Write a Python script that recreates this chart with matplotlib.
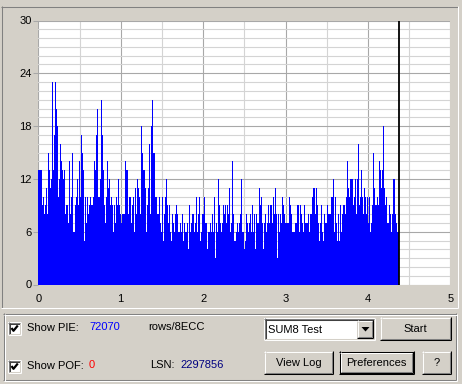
"""PIE scan screen: per-column PIE histogram with the control strip underneath."""

import numpy as np
import matplotlib

matplotlib.use("Agg")  # headless rendering
import matplotlib.pyplot as plt
from matplotlib.patches import Rectangle, Polygon

# PIE (rows/8ECC), one value per screen column, read left to right
pie_seg1 = [13, 13, 13, 13, 9, 10, 8, 9, 11, 8, 15, 13, 11, 12, 23, 13, 17, 23, 20, 18,
            10, 12, 16, 14, 13, 12, 13, 8, 9, 9, 7, 14, 8, 10, 15, 6, 6, 9, 10, 12,
            9, 14, 10, 17, 15, 13, 5, 10, 7, 10, 8, 9, 10, 9, 9, 10, 14, 13, 17, 20,
            10, 10, 12, 21, 17, 13, 9, 7, 10, 14, 11, 12, 9, 10, 9]
pie_seg2 = [6, 9, 7, 10, 9, 12, 9, 8, 7, 8, 8, 8, 14, 13, 13, 8, 10, 10, 7, 9,
            10, 6, 11, 8, 12, 11, 10, 8, 18, 15, 13, 13, 11, 6, 9, 11, 16, 8, 18, 21,
            15, 15, 10, 10, 8, 8, 10, 7, 6, 10, 5, 8, 10, 12, 9, 7, 9, 6, 5, 8,
            7, 6, 8, 9, 8, 6, 6, 7, 6, 8, 5, 7, 6, 6]
pie_seg3 = [7, 4, 9, 6, 7, 8, 8, 6, 7, 10, 6, 8, 10, 5, 6, 8, 8, 10, 7, 7,
            4, 6, 6, 7, 6, 8, 6, 10, 3, 7, 6, 12, 9, 7, 6, 7, 9, 8, 9, 7,
            9, 8, 11, 6, 7, 14, 8, 5, 5, 6, 7, 6, 7, 8, 12, 6, 6, 4, 5, 8,
            7, 6, 7, 8, 6, 9, 6, 8, 4, 8, 7, 7, 11, 9]
pie_seg4 = [10, 7, 4, 7, 8, 6, 7, 9, 7, 9, 9, 7, 10, 8, 11, 8, 3, 8, 6, 8,
            7, 10, 9, 8, 7, 7, 7, 7, 10, 9, 8, 6, 6, 6, 7, 7, 9, 9, 6, 9,
            8, 7, 6, 9, 7, 7, 7, 8, 6, 8, 8, 10, 11, 11, 8, 11, 9, 7, 5, 7,
            9, 6, 5, 8, 7, 7, 9, 8, 8, 8, 10, 10, 12, 6]
pie_seg5 = [10, 7, 5, 8, 5, 9, 6, 8, 9, 9, 8, 10, 14, 11, 10, 12, 12, 12, 9, 10,
            12, 8, 12, 16, 9, 10, 13, 10, 8, 11, 10, 8, 10, 7, 10, 6, 7, 9, 15, 11,
            9, 9, 10, 9, 14, 13, 11, 11, 13, 18, 11, 9, 10, 7, 7, 9, 8, 6, 8, 12,
            12, 8, 7, 6, 6]
pie_values = pie_seg1 + pie_seg2 + pie_seg3 + pie_seg4 + pie_seg5

scan_end_gb = 4.383          # current position (LSN 2297856)
x_ticks = [0, 1, 2, 3, 4, 5]
y_ticks = [0, 6, 12, 18, 24, 30]

pie_total = "72070"
pof_total = "0"
lsn_text = "2297856"
test_name = "SUM8 Test"

FACE = "#d4d0c8"
DARK = "#808080"
BLACK = "#000000"
WHITE = "#ffffff"
FONT = "Liberation Sans"
FS = 8

W, H = 462, 384
fig = plt.figure(figsize=(W / 100, H / 100), dpi=100, facecolor=FACE)

# --- control strip / frames, drawn in pixel coordinates --------------------
ui = fig.add_axes([0, 0, 1, 1], zorder=0)
ui.set_xlim(0, W); ui.set_ylim(H, 0); ui.axis("off")
ui.patch.set_alpha(0)


def _line(x0, y0, x1, y1, c):
    ui.plot([x0, x1], [y0, y1], color=c, lw=0.75, solid_capstyle="butt")


def frame(x0, y0, x1, y1, tl, br):
    # 1-px frame around pixels x0..x1, y0..y1 (top-left colour, bottom-right colour)
    _line(x0, y0 + .5, x1 + 1, y0 + .5, tl)
    _line(x0 + .5, y0, x0 + .5, y1 + 1, tl)
    _line(x0, y1 + .5, x1 + 1, y1 + .5, br)
    _line(x1 + .5, y0, x1 + .5, y1 + 1, br)


def button(x0, y0, x1, y1, label, default=False):
    if default:
        frame(x0, y0, x1, y1, BLACK, BLACK)
        x0, y0, x1, y1 = x0 + 1, y0 + 1, x1 - 1, y1 - 1
    ui.add_patch(Rectangle((x0, y0), x1 - x0 + 1, y1 - y0 + 1, color=FACE, lw=0))
    frame(x0, y0, x1, y1, WHITE, BLACK)
    frame(x0 + 1, y0 + 1, x1 - 1, y1 - 1, FACE, DARK)
    if label:
        ui.text((x0 + x1 + 1) / 2, (y0 + y1 + 1) / 2, label, ha="center", va="center",
                fontsize=FS, family=FONT)


def checkbox(x0, y0):
    ui.add_patch(Rectangle((x0, y0), 13, 13, color=WHITE, lw=0))
    frame(x0, y0, x0 + 12, y0 + 12, DARK, WHITE)
    frame(x0 + 1, y0 + 1, x0 + 11, y0 + 11, "#404040", FACE)
    ui.plot([x0 + 3.5, x0 + 5.5, x0 + 9.8], [y0 + 6, y0 + 8.8, y0 + 3.5],
            color=BLACK, lw=1.6, solid_capstyle="butt")


# graph panel (sunken) and group box (etched)
frame(1, 6, 457, 307, DARK, WHITE)
frame(3, 313, 455, 379, DARK, DARK)
frame(4, 314, 456, 380, WHITE, WHITE)

checkbox(8, 322)
checkbox(8, 360)
ui.text(27, 328, "Show PIE:", va="center", fontsize=FS, family=FONT)
ui.text(89, 327, pie_total, va="center", fontsize=FS, family=FONT, color="#0000ff")
ui.text(148, 327, "rows/8ECC", va="center", fontsize=FS, family=FONT)
ui.text(27, 366, "Show POF:", va="center", fontsize=FS, family=FONT)
ui.text(89, 365, pof_total, va="center", fontsize=FS, family=FONT, color="#ff0000")
ui.text(150, 365, "LSN:", va="center", fontsize=FS, family=FONT)
ui.text(180, 365, lsn_text, va="center", fontsize=FS, family=FONT, color="#000080")

# combo box
ui.add_patch(Rectangle((264, 318), 111, 22, color=WHITE, lw=0))
frame(264, 318, 374, 339, DARK, WHITE)
frame(265, 319, 373, 338, "#404040", FACE)
ui.text(268, 330, test_name, va="center", fontsize=FS, family=FONT)
button(357, 320, 372, 337, "")
ui.add_patch(Polygon([[361.5, 327], [369.5, 327], [365.5, 331.5]], closed=True,
                     color=BLACK, lw=0))

button(380, 317, 450, 339, "Start")
button(264, 351, 332, 373, "View Log")
button(339, 351, 413, 373, "Preferences", default=True)
button(422, 351, 450, 373, "?")

# --- PIE chart ------------------------------------------------------------
left, right, top, bottom = 38.3, 450.3, 20.5, 284.5
ax = fig.add_axes([left / W, 1 - bottom / H, (right - left) / W, (bottom - top) / H],
                  zorder=1)
ax.set_facecolor(WHITE)

edges = np.linspace(0, scan_end_gb, len(pie_values) + 1)
ax.stairs(pie_values, edges, fill=True, color="#0000ff", lw=0, antialiased=False,
          zorder=2)
ax.axvline(scan_end_gb, color=BLACK, lw=1.3, zorder=3)

ax.set_xlim(0, 5); ax.set_ylim(0, 30)
ax.set_xticks(x_ticks); ax.set_yticks(y_ticks)
ax.set_xticks(np.arange(0, 5.01, 0.5), minor=True)
ax.set_yticks(np.arange(0, 31, 1), minor=True)
ax.set_axisbelow(True)
ax.grid(which="minor", color="#d4d4d4", lw=0.8)
ax.grid(which="major", color="#a8a8a8", lw=0.8)
ax.tick_params(which="minor", length=0)
ax.tick_params(axis="y", which="major", length=3.6, width=0.75, color="#a8a8a8",
               pad=1, labelsize=FS)
ax.tick_params(axis="x", which="major", length=0, pad=7, labelsize=FS)
for lab in ax.get_xticklabels() + ax.get_yticklabels():
    lab.set_family(FONT)
for s in ax.spines.values():
    s.set_visible(False)

fig.savefig("out.png", dpi=100, facecolor=FACE)
